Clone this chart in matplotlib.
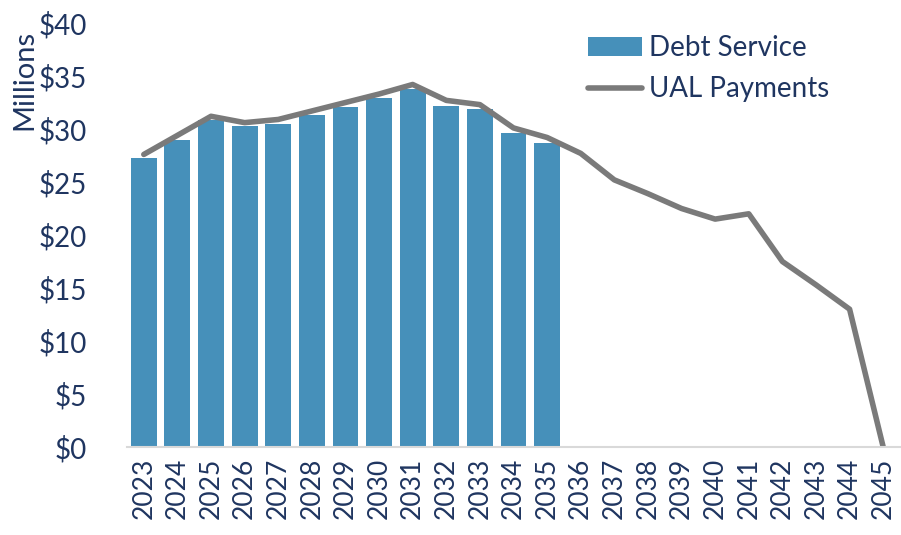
import numpy as np
import matplotlib
matplotlib.use("Agg")
import matplotlib.pyplot as plt

plt.rcParams['font.family'] = ['Lato', 'DejaVu Sans']

years = [str(y) for y in range(2023, 2046)]
debt_service = [27.3, 29.0, 30.85, 30.3, 30.5, 31.3, 32.1, 32.9, 33.8, 32.2, 31.9, 29.6, 28.7]
ual_payments = [27.6, 29.4, 31.2, 30.6, 30.9, 31.7, 32.5, 33.3, 34.2, 32.7, 32.3, 30.1, 29.2,
                27.7, 25.2, 23.9, 22.5, 21.5, 22.0, 17.5, 15.3, 13.0, 0.0]
yticks = [0, 5, 10, 15, 20, 25, 30, 35, 40]

navy = '#1F3560'
bar_color = '#4690BA'
line_color = '#7A7A7A'

fig = plt.figure(figsize=(9.01, 5.35), dpi=100)
ax = fig.add_axes([127 / 901, 1 - 447 / 535, 773 / 901, 424 / 535])

x = np.arange(len(years))
bars = ax.bar(x[:len(debt_service)], debt_service, width=0.77, color=bar_color, label='Debt Service')
line, = ax.plot(x, ual_payments, color=line_color, linewidth=4, solid_capstyle='round',
                label='UAL Payments')

ax.set_xlim(-0.5, len(years) - 0.5)
ax.set_ylim(0, 40)
ax.set_yticks(yticks)
ax.set_yticklabels(['$' + str(v) for v in yticks])
ax.set_xticks(x)
ax.set_xticklabels(years, rotation=90)
ax.tick_params(axis='both', length=0, labelsize=19, colors=navy)
ax.tick_params(axis='y', labelsize=20, pad=29)
ax.tick_params(axis='x', pad=8)

for s in ['top', 'right', 'left']:
    ax.spines[s].set_visible(False)
ax.spines['bottom'].set_color('#D9D9D9')
ax.spines['bottom'].set_linewidth(1.5)

fig.text(24 / 901, 1 - 80 / 535, 'Millions', rotation=90, ha='center', va='center',
         fontsize=21, color=navy)

leg = fig.legend([bars, line], ['Debt Service', 'UAL Payments'], loc='upper left',
                 bbox_to_anchor=(588 / 901, 1 - 35 / 535), frameon=False, fontsize=20,
                 borderpad=0, borderaxespad=0, handlelength=1.95, handleheight=0.65,
                 handletextpad=0.25, labelspacing=0.55)
for t in leg.get_texts():
    t.set_color(navy)

fig.savefig('out.png', dpi=100)
